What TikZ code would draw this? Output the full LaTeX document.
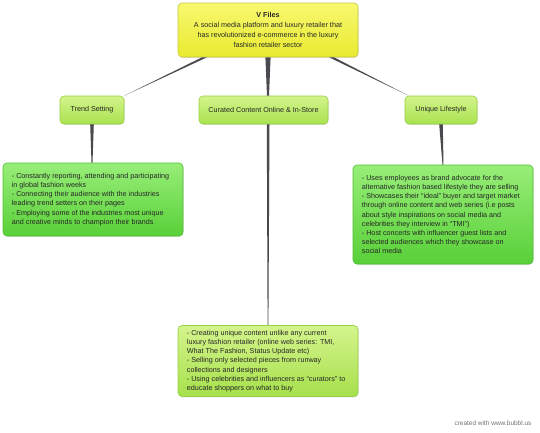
\documentclass[tikz,border=0pt]{standalone}
\usepackage{fontspec}
\setmainfont{Liberation Sans}
\usetikzlibrary{calc,shadows}
\definecolor{rootTop}{HTML}{F8F870}
\definecolor{rootBot}{HTML}{E8EA30}
\definecolor{rootLine}{HTML}{C8C840}
\definecolor{midTop}{HTML}{D4F48C}
\definecolor{midBot}{HTML}{A8E250}
\definecolor{midLine}{HTML}{98D040}
\definecolor{grTop}{HTML}{98EE78}
\definecolor{grBot}{HTML}{58D038}
\definecolor{grLine}{HTML}{50C030}
\definecolor{ywTop}{HTML}{D4F48C}
\definecolor{ywBot}{HTML}{A6E04C}
\definecolor{conn}{HTML}{4A4A4E}
\tikzset{
  box/.style={draw, rounded corners=4pt, line width=0.6pt, inner sep=0pt,
    drop shadow={shadow xshift=0.6pt, shadow yshift=-0.8pt, opacity=0.25}},
  rootbox/.style={box, draw=rootLine, top color=rootTop, bottom color=rootBot},
  midbox/.style={box, draw=midLine, top color=midTop, bottom color=midBot},
  grbox/.style={box, draw=grLine, top color=grTop, bottom color=grBot},
  ywbox/.style={box, draw=midLine, top color=ywTop, bottom color=ywBot},
  txt/.style={font=\fontsize{7.2}{9.2}\selectfont, text=black!85, align=left, inner sep=0pt, anchor=west},
  ctxt/.style={font=\fontsize{7.2}{10}\selectfont, text=black!85, align=center},
  taper/.style={fill=conn},
}
\begin{document}
\begin{tikzpicture}[x=1pt,y=-1pt]
\useasboundingbox[fill=white] (0,0) rectangle (540,432);
% boxes
\node[rootbox, minimum width=180, minimum height=54] (root) at (268,30) {};
\node[ctxt] (roottxt) at (root.center) {\textbf{V Files}\\A social media platform and luxury retailer that\\has revolutionized e-commerce in the luxury\\fashion retailer sector};
\node[midbox, minimum width=64, minimum height=28] (trend) at (92,110) {};
\node[ctxt] (trendtxt) at (trend.center) {Trend Setting};
\node[midbox, minimum width=129, minimum height=28] (cur) at (263.5,110) {};
\node[ctxt] (curtxt) at (cur.center) {Curated Content Online \& In-Store};
\node[midbox, minimum width=72, minimum height=28] (uniq) at (441,110) {};
\node[ctxt] (uniqtxt) at (uniq.center) {Unique Lifestyle};
\node[grbox, minimum width=180, minimum height=73] (ldet) at (93,199.5) {};
\node[txt] (ltxt) at ($(ldet.west)+(9,0)$) {- Constantly reporting, attending and participating\\in global fashion weeks\\- Connecting their audience with the industries\\leading trend setters on their pages\\- Employing some of the industries most unique\\and creative minds to champion their brands};
\node[grbox, minimum width=180, minimum height=99] (rdet) at (443,214.5) {};
\node[txt] (rtxt) at ($(rdet.west)+(9,0)$) {- Uses employees as brand advocate for the\\alternative fashion based lifestyle they are selling\\- Showcases their ``ideal'' buyer and target market\\through online content and web series (i.e posts\\about style inspirations on social media and\\celebrities they interview in ``TMI'')\\- Host concerts with influencer guest lists and\\selected audiences which they showcase on\\social media};
\node[ywbox, minimum width=180, minimum height=71] (bdet) at (268,361) {};
\node[txt] (btxt) at ($(bdet.west)+(9,0)$) {- Creating unique content unlike any current\\luxury fashion retailer (online web series: TMI,\\What The Fashion, Status Update etc)\\- Selling only selected pieces from runway\\collections and designers\\- Using celebrities and influencers as ``curators'' to\\educate shoppers on what to buy};
\node[font=\fontsize{6.5}{8}\selectfont, text=black!55, anchor=east] (credit) at (535,423) {created with www.bubbl.us};
% connectors (tapered)
\fill[taper] ($(root.south)+(-66,0)$) -- ($(root.south)+(-61,0)$) -- (trend.north east) -- cycle;
\fill[taper] ($(root.south)+(61,0)$) -- ($(root.south)+(66,0)$) -- ($(uniq.north west)+(4,0)$) -- cycle;
\fill[taper] ($(root.south)+(-2.6,0)$) -- ($(root.south)+(2.6,0)$) -- ($(cur.north)+(5.5,0)$) -- ($(cur.north)+(3.5,0)$) -- cycle;
\fill[taper] ($(trend.south)+(-1.8,0)$) -- ($(trend.south)+(1.8,0)$) -- ($(ldet.north)+(-0.5,0)$) -- ($(ldet.north)+(-1.5,0)$) -- cycle;
\fill[taper] ($(uniq.south)+(-1.8,0)$) -- ($(uniq.south)+(1.8,0)$) -- ($(rdet.north)+(0.5,0)$) -- ($(rdet.north)+(-0.5,0)$) -- cycle;
\fill[taper] ($(cur.south)+(3.3,0)$) -- ($(cur.south)+(6.0,0)$) -- ($(bdet.north)+(0.4,0)$) -- ($(bdet.north)+(-0.4,0)$) -- cycle;
\end{tikzpicture}
\end{document}
